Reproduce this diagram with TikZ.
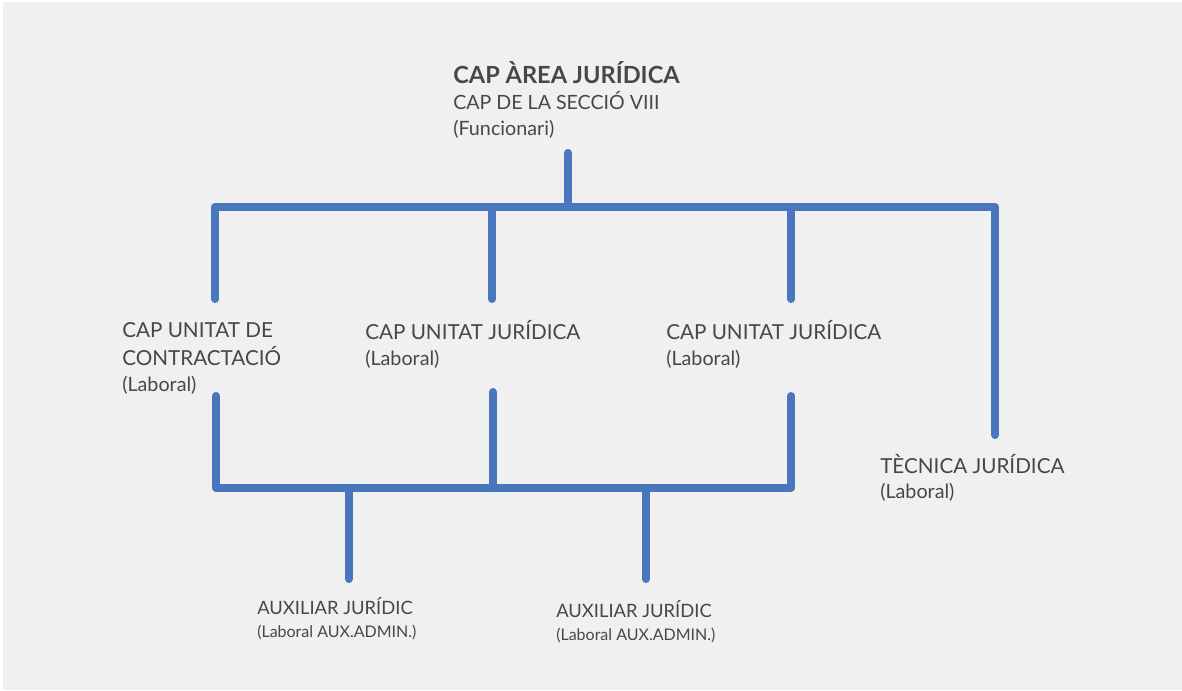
\documentclass[tikz,border=0pt]{standalone}
\usepackage{fontspec}
\setmainfont{Lato}
\definecolor{bgc}{HTML}{F0F0F0}
\definecolor{linec}{HTML}{4A76BD}
\definecolor{txtc}{HTML}{474747}
\tikzset{
  conn/.style={draw=linec, line width=6pt, line cap=round, line join=round},
  lbl/.style={anchor=base west, inner sep=0pt, text=txtc, font=\fontsize{15.5}{18}\selectfont},
  sub/.style={anchor=base west, inner sep=0pt, text=txtc, font=\fontsize{14.8}{17}\selectfont},
  auxl/.style={anchor=base west, inner sep=0pt, text=txtc, font=\fontsize{13.8}{16}\selectfont},
  small/.style={anchor=base west, inner sep=0pt, text=txtc, font=\fontsize{12}{15}\selectfont},
  ttl/.style={anchor=base west, inner sep=0pt, text=txtc, font=\fontsize{17.7}{21}\selectfont\bfseries}
}
\begin{document}
\begin{tikzpicture}[x=0.75pt,y=-0.75pt]
\useasboundingbox (0,0) rectangle (1182,690);
\fill[bgc] (3,2) rectangle (1182,690);
% texts
\node[ttl] (t1) at (453,83) {CAP ÀREA JURÍDICA};
\node[lbl, font=\fontsize{14.7}{17}\selectfont] (t2) at (453,109) {CAP DE LA SECCIÓ VIII};
\node[sub] (t3) at (453,135) {(Funcionari)};
\node[lbl] (a1) at (122,337) {CAP UNITAT DE};
\node[lbl] (a2) at (122,365) {CONTRACTACIÓ};
\node[sub] (a3) at (122,391) {(Laboral)};
\node[lbl] (b1) at (365,339) {CAP UNITAT JURÍDICA};
\node[sub] (b2) at (365,365) {(Laboral)};
\node[lbl] (c1) at (666,339) {CAP UNITAT JURÍDICA};
\node[sub] (c2) at (666,365) {(Laboral)};
\node[lbl] (d1) at (880,473) {TÈCNICA JURÍDICA};
\node[sub] (d2) at (880,498) {(Laboral)};
\node[auxl] (e1) at (257,614) {AUXILIAR JURÍDIC};
\node[small] (e2) at (257,637) {(Laboral AUX.ADMIN.)};
\node[auxl] (f1) at (556,617) {AUXILIAR JURÍDIC};
\node[small] (f2) at (556,640) {(Laboral AUX.ADMIN.)};
% connector points
\coordinate (top) at (568,153);
\coordinate (topj) at (568,207);
\coordinate (h1) at (215,207);
\coordinate (h2) at (492,207);
\coordinate (h3) at (791,207);
\coordinate (h4) at (995,207);
\coordinate (v1) at (215,299);
\coordinate (v2) at (492,299);
\coordinate (v3) at (791,299);
\coordinate (v4) at (995,435);
\coordinate (u1) at (216,396);
\coordinate (u2) at (493,392);
\coordinate (u3) at (791,396);
\coordinate (l1) at (216,488);
\coordinate (l2) at (493,488);
\coordinate (l3) at (791,488);
\coordinate (m1) at (349,488);
\coordinate (m2) at (646,488);
\coordinate (n1) at (349,579);
\coordinate (n2) at (646,579);
% connectors
\draw[conn] (top) -- (topj);
\draw[conn] (v1) -- (h1) -- (h4) -- (v4);
\draw[conn] (h2) -- (v2);
\draw[conn] (h3) -- (v3);
\draw[conn] (u1) -- (l1) -- (l3) -- (u3);
\draw[conn] (u2) -- (l2);
\draw[conn] (m1) -- (n1);
\draw[conn] (m2) -- (n2);
\end{tikzpicture}
\end{document}
